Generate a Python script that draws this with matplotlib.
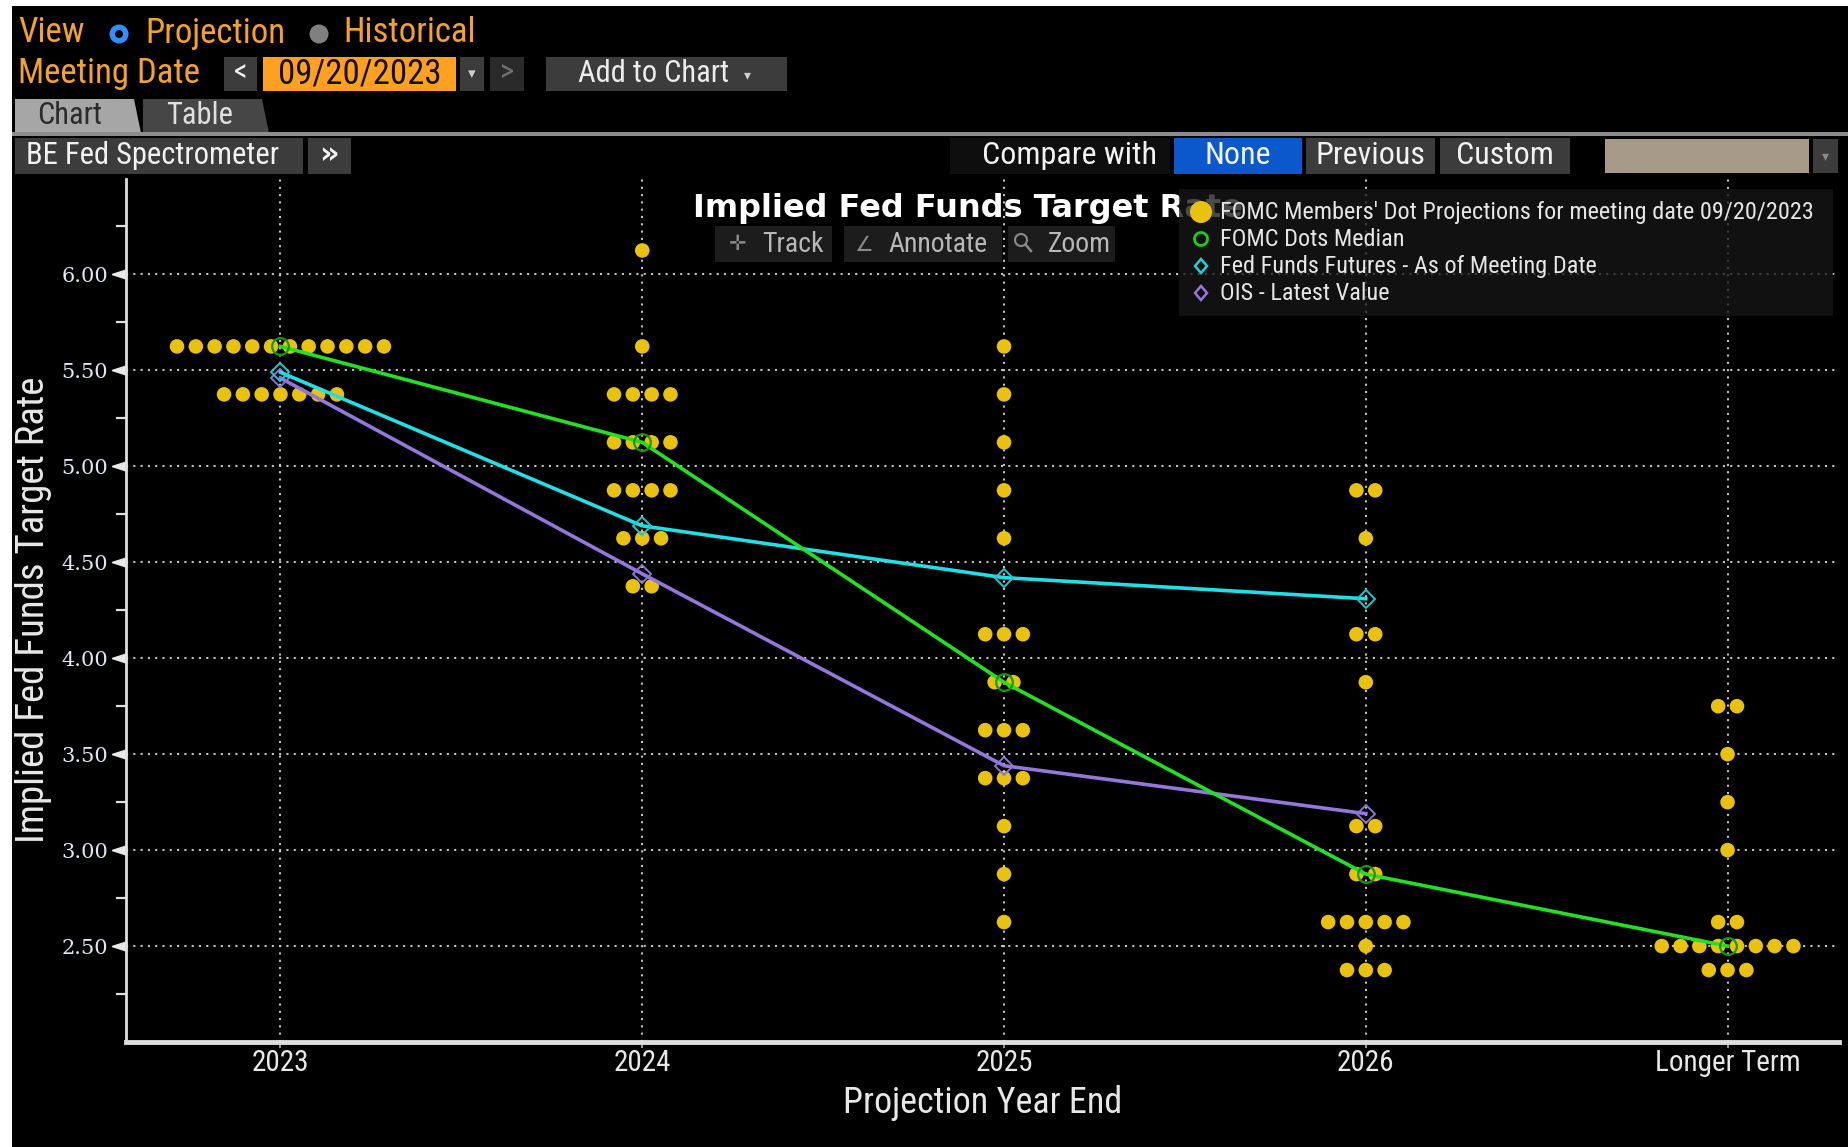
import numpy as np
import matplotlib
matplotlib.use('Agg')
import matplotlib.pyplot as plt
from matplotlib import font_manager as fm
from matplotlib.patches import Rectangle, Polygon, Circle
from matplotlib.path import Path
from matplotlib.markers import MarkerStyle
from matplotlib.lines import Line2D

# ---------------- data ----------------
categories = ['2023', '2024', '2025', '2026', 'Longer Term']
dot_rates = {
    '2023': [5.625, 5.375],
    '2024': [6.125, 5.625, 5.375, 5.125, 4.875, 4.625, 4.375],
    '2025': [5.625, 5.375, 5.125, 4.875, 4.625, 4.125, 3.875, 3.625, 3.375, 3.125, 2.875, 2.625],
    '2026': [4.875, 4.625, 4.125, 3.875, 3.125, 2.875, 2.625, 2.5, 2.375],
    'Longer Term': [3.75, 3.5, 3.25, 3.0, 2.625, 2.5, 2.375],
}
dot_counts = {
    '2023': [12, 7],
    '2024': [1, 1, 4, 4, 4, 3, 2],
    '2025': [1, 1, 1, 1, 1, 3, 2, 3, 3, 1, 1, 1],
    '2026': [2, 1, 2, 1, 2, 2, 5, 1, 3],
    'Longer Term': [2, 1, 1, 1, 2, 8, 3],
}
median_dots = [5.625, 5.125, 3.875, 2.875, 2.5]
fed_funds_futures = [5.49, 4.69, 4.42, 4.31]
ois_latest = [5.46, 4.44, 3.44, 3.19]
y_major = [2.5, 3.0, 3.5, 4.0, 4.5, 5.0, 5.5, 6.0]
y_minor = [2.25, 2.75, 3.25, 3.75, 4.25, 4.75, 5.25, 5.75, 6.25]

# ---------------- fonts ----------------
avail = {f.name for f in fm.fontManager.ttflist}
def pick(*names):
    for n in names:
        if n in avail:
            return n
    return 'DejaVu Sans'
NARROW = pick('Liberation Sans Narrow', 'Roboto Condensed', 'Open Sans Condensed', 'Liberation Sans')

W, H = 1848, 1147
fig = plt.figure(figsize=(W / 100, H / 100), dpi=100, facecolor='black')

# ---------------- main chart ----------------
ax = fig.add_axes([126 / W, (H - 1042) / H, (1839 - 126) / W, (1042 - 178.5) / H])
ax.set_facecolor('black')
ax.set_xlim(-0.427, 4.308)
ax.set_ylim(2.0, 6.5)

grid_kw = dict(color='#c4c4c4', linestyle=(0, (1, 2.5)), linewidth=1.5)
ax.set_yticks(y_major)
ax.set_yticks(y_minor, minor=True)
ax.set_yticklabels([f'{v:.2f}' for v in y_major], family='DejaVu Serif', fontsize=15, color='#e2e8ee')
ax.set_xticks(range(len(categories)))
ax.set_xticklabels(categories, family=NARROW, fontsize=21, color='#e8e8e8')
ax.grid(which='major', axis='both', **grid_kw)
ax.set_axisbelow(True)

ax.tick_params(axis='x', length=4, width=1.2, color='#b0b0b0', pad=1)
ax.tick_params(axis='y', which='major', length=10, width=1.2, color='#e8e8e8', pad=3)
ax.tick_params(axis='y', which='minor', length=7, width=1.6, color='#e0e0e0')

tri = Path([(0, 0.32), (-1, 0), (0, -0.32), (0, 0.32)],
           [Path.MOVETO, Path.LINETO, Path.LINETO, Path.CLOSEPOLY])
for t in ax.yaxis.get_major_ticks():
    t.tick1line.set_marker(MarkerStyle(tri))
    t.tick1line.set_markersize(20)
    t.tick1line.set_markerfacecolor('#e8e8e8')
    t.tick1line.set_markeredgecolor('#e8e8e8')

for s in ['top', 'right']:
    ax.spines[s].set_visible(False)
ax.spines['left'].set_color('#e0e0e0')
ax.spines['left'].set_linewidth(2)
ax.spines['bottom'].set_color('#dedede')
ax.spines['bottom'].set_linewidth(3.5)

spacing = 0.052
for i, cat in enumerate(categories):
    for r, n in zip(dot_rates[cat], dot_counts[cat]):
        offs = (np.arange(n) - (n - 1) / 2) * spacing
        ax.scatter(i + offs, np.full(n, r), s=110, color='#e8c20c', edgecolors='none', zorder=3)

x_idx = np.arange(len(categories))
ax.plot(x_idx[:len(ois_latest)], ois_latest, color='#9577dc', lw=2.6, zorder=4,
        marker='D', ms=9, mfc='none', mec='#8d74d6', mew=1.4)
ax.plot(x_idx[:len(fed_funds_futures)], fed_funds_futures, color='#1fe0e6', lw=2.6, zorder=5,
        marker='D', ms=9, mfc='none', mec='#1cc8cc', mew=1.4)
ax.plot(x_idx, median_dots, color='#22e022', lw=2.6, zorder=6,
        marker='o', ms=12, mfc='none', mec='#0c9c0c', mew=1.6)

ax.set_xlabel('Projection Year End', family=NARROW, fontsize=26, color='#e8e8e8', labelpad=6)
ax.set_ylabel('Implied Fed Funds Target Rate', family=NARROW, fontsize=28, color='#e8e8e8')
ax.yaxis.set_label_coords(-0.043, 0.5)

# ---------------- UI chrome ----------------
ui = fig.add_axes([0, 0, 1, 1], facecolor='none')
ui.set_xlim(0, W)
ui.set_ylim(H, 0)
ui.axis('off')
ui.set_zorder(5)

ORANGE = '#f5a229'

def box(x0, y0, x1, y1, color, z=1):
    ui.add_patch(Rectangle((x0, y0), x1 - x0, y1 - y0, facecolor=color, edgecolor='none', zorder=z))

def txt(x, y, s, size, color, ha='left', family=NARROW, weight='normal', z=3):
    ui.text(x, y, s, fontsize=size, color=color, ha=ha, va='center',
            family=family, fontweight=weight, zorder=z)

# row 1
txt(18, 33, 'View', 25, ORANGE)
ui.add_patch(Circle((119, 34), 9.5, facecolor='#2f8fff', edgecolor='none', zorder=2))
ui.add_patch(Circle((119, 34), 4, facecolor='black', edgecolor='none', zorder=3))
txt(145, 33, 'Projection', 25, ORANGE)
ui.add_patch(Circle((319, 34), 9.5, facecolor='#808080', edgecolor='none', zorder=2))
txt(343, 33, 'Historical', 25, ORANGE)

# row 2
txt(18, 73, 'Meeting Date', 25, ORANGE)
box(224, 57, 257, 91, '#3c3c3c')
txt(240.5, 73, '<', 22, '#f0f0f0', ha='center')
box(263, 57, 456, 91, '#ffa020')
txt(359.5, 74, '09/20/2023', 25, '#111111', ha='center')
box(460, 57, 484, 91, '#3c3c3c')
txt(472, 74, '▾', 11, '#d0d0d0', ha='center', family='DejaVu Sans')
box(490, 57, 524, 91, '#2a2a2a')
txt(507, 73, '>', 22, '#707070', ha='center')
box(546, 57, 787, 91, '#3c3c3c')
txt(654, 73, 'Add to Chart', 22, '#ececec', ha='center')
txt(747, 75, '▾', 10, '#d0d0d0', ha='center', family='DejaVu Sans')

# tabs
ui.add_patch(Polygon([(15, 133), (15, 99), (134, 99), (141, 133)], closed=True,
                     facecolor='#a6a6a6', edgecolor='none', zorder=1))
txt(70, 115, 'Chart', 22, '#2b2b2b', ha='center')
ui.add_patch(Polygon([(143, 133), (143, 99), (262, 99), (269, 133)], closed=True,
                     facecolor='#464646', edgecolor='none', zorder=1))
txt(200, 115, 'Table', 22, '#e0e0e0', ha='center')
box(12, 132, W, 136, '#8c8c8c', z=2)

# toolbar row
box(15, 138, 303, 174, '#3c3c3c')
txt(26, 156, 'BE Fed Spectrometer', 22, '#f2f2f2')
box(308, 138, 351, 174, '#3c3c3c')
txt(329.5, 155, '»', 22, '#f2f2f2', ha='center', family='DejaVu Sans', weight='bold')
box(950, 138, 1170, 174, '#0e0e0e')
txt(1157, 156, 'Compare with', 23, '#f2f2f2', ha='right')
box(1174, 138, 1302, 174, '#0a58cc')
txt(1238, 156, 'None', 23, '#f2f2f2', ha='center')
box(1306, 138, 1435, 174, '#3c3c3c')
txt(1370.5, 156, 'Previous', 23, '#f2f2f2', ha='center')
box(1440, 138, 1570, 174, '#3c3c3c')
txt(1505, 156, 'Custom', 23, '#f2f2f2', ha='center')
box(1605, 139, 1809, 173, '#a89a89')
box(1813, 139, 1838, 173, '#3c3c3c')
txt(1825.5, 156, '▾', 10, '#8a8a8a', ha='center', family='DejaVu Sans')

# chart title
txt(693, 209, 'Implied Fed Funds Target Rate', 23, 'white', family='DejaVu Sans', weight='bold', z=2)

# track / annotate / zoom toolbar
box(715, 226, 832, 262, '#1c1c1c', z=2)
txt(738, 244, '✛', 15, '#8a8a8a', ha='center', family='DejaVu Sans')
txt(762, 244, 'Track', 20, '#b8b8b8')
box(844, 226, 1002, 262, '#1c1c1c', z=2)
txt(864, 245, '∠', 15, '#8a8a8a', ha='center', family='DejaVu Sans')
txt(888, 244, 'Annotate', 20, '#b8b8b8')
box(1008, 226, 1115, 262, '#1c1c1c', z=2)
ui.add_patch(Circle((1021, 240), 6, facecolor='none', edgecolor='#8a8a8a', lw=1.5, zorder=3))
ui.add_line(Line2D([1025.5, 1031], [244.5, 251], color='#8a8a8a', lw=1.8, zorder=3))
txt(1048, 244, 'Zoom', 20, '#b8b8b8')

# legend
box(1179, 189, 1833, 316, (0.09, 0.09, 0.09, 0.78), z=4)
ui.add_patch(Circle((1201, 212), 11, facecolor='#e8c20c', edgecolor='none', zorder=6))
txt(1220, 212, "FOMC Members' Dot Projections for meeting date 09/20/2023", 17.5, '#e6e6e6', z=6)
ui.add_patch(Circle((1201, 239), 6.5, facecolor='none', edgecolor='#1ecc1e', lw=2, zorder=6))
txt(1220, 239, 'FOMC Dots Median', 17.5, '#e6e6e6', z=6)
ui.add_patch(Polygon([(1201, 259), (1207, 266), (1201, 273), (1195, 266)], closed=True,
                     facecolor='none', edgecolor='#20d0d8', lw=1.8, zorder=6))
txt(1220, 266, 'Fed Funds Futures - As of Meeting Date', 17.5, '#e6e6e6', z=6)
ui.add_patch(Polygon([(1201, 286), (1207, 293), (1201, 300), (1195, 293)], closed=True,
                     facecolor='none', edgecolor='#9577dc', lw=1.8, zorder=6))
txt(1220, 293, 'OIS - Latest Value', 17.5, '#e6e6e6', z=6)

# white frame strips
box(0, 0, W, 6, 'white', z=10)
box(0, 0, 12, H, 'white', z=10)

fig.savefig('out.png', dpi=100, facecolor='black')
